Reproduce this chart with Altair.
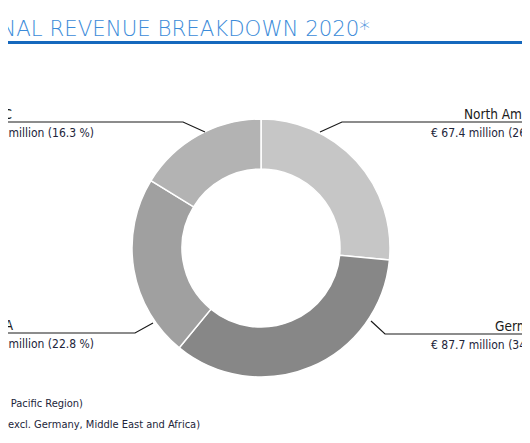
import altair as alt
import pandas as pd

# ---------------- data ----------------
regions = ["North America", "Germany", "EMEA", "APAC"]
revenue_meur = [67.4, 87.7, 58.1, 41.4]
share_pct = [26.5, 34.4, 22.8, 16.3]
slice_colors = ["#c6c6c6", "#878787", "#a0a0a0", "#b3b3b3"]
value_labels = [
    "€ 67.4 million  (26.5 %)",
    "€ 87.7 million (34.4 %)",
    "€ 58.1 million (22.8 %)",
    "€ 41.4 million (16.3 %)",
]
title_text = "REGIONAL REVENUE BREAKDOWN 2020*"
footnotes = [
    "APAC (Asia and Pacific Region)",
    "EMEA (Europe excl. Germany, Middle East and Africa)",
]

# ---------------- layout (reference pixel space) ----------------
W, H, M = 530, 443, 8
CX, CY = 261, 248
R_OUT, R_IN = 129, 79
FONT = "Liberation Sans Narrow, Arial Narrow, DejaVu Sans Condensed, sans-serif"

side = ["right", "right", "left", "left"]
line_y = [122, 334, 333, 122]
name_x = [464, 495, 13, 12]
value_x = [431, 431, 94, 94]
leader_paths = [
    [(530, 122), (342, 122), (320, 132)],
    [(530, 334), (385, 334), (371, 321)],
    [(0, 333), (135, 333), (153, 323)],
    [(0, 122), (183, 122), (205, 132)],
]

df = pd.DataFrame({
    "region": regions,
    "revenue": revenue_meur,
    "share": share_pct,
    "idx": list(range(len(regions))),
    "value_label": value_labels,
    "side": side,
    "name_x": name_x,
    "value_x": value_x,
    "name_y": [v - 3.5 for v in line_y],
    "value_y": [v + 14.5 for v in line_y],
})

lead_rows = []
for r, path in zip(regions, leader_paths):
    for k, (px, py) in enumerate(path):
        lead_rows.append({"region": r, "k": k, "px": px, "py": py})
lead_df = pd.DataFrame(lead_rows)

xs = alt.Scale(domain=[M, W - M], nice=False, zero=False)
ys = alt.Scale(domain=[M, H - M], reverse=True, nice=False, zero=False)

base = alt.Chart(df)

donut = base.mark_arc(radius=R_OUT, innerRadius=R_IN, stroke="white", strokeWidth=1.5).encode(
    theta=alt.Theta("revenue:Q", stack=True),
    order=alt.Order("idx:Q"),
    color=alt.Color("region:N", scale=alt.Scale(domain=regions, range=slice_colors), legend=None),
    x=alt.value(CX - M),
    y=alt.value(CY - M),
)

leaders = alt.Chart(lead_df).mark_line(color="#1a1a1a", strokeWidth=1.2).encode(
    x=alt.X("px:Q", scale=xs, axis=None),
    y=alt.Y("py:Q", scale=ys, axis=None),
    detail="region:N",
    order="k:Q",
)

def label_layer(sd, align):
    sub = base.transform_filter(alt.datum.side == sd)
    names = sub.mark_text(align=align, baseline="alphabetic", font=FONT, fontSize=13.5, color="#1b1b1b").encode(
        x=alt.X("name_x:Q", scale=xs, axis=None),
        y=alt.Y("name_y:Q", scale=ys, axis=None),
        text="region:N",
    )
    vals = sub.mark_text(align=align, baseline="alphabetic", font=FONT, fontSize=12, color="#22253a").encode(
        x=alt.X("value_x:Q", scale=xs, axis=None),
        y=alt.Y("value_y:Q", scale=ys, axis=None),
        text="value_label:N",
    )
    return names + vals

title_df = pd.DataFrame({"t": [title_text], "x": [370], "y": [36], "x0": [0], "x1": [530], "ry": [42.5]})
title = alt.Chart(title_df).mark_text(
    align="right", baseline="alphabetic", font="DejaVu Sans", fontWeight=200, fontSize=21.3, color="#3b8bd9"
).encode(
    x=alt.X("x:Q", scale=xs, axis=None),
    y=alt.Y("y:Q", scale=ys, axis=None),
    text="t:N",
)
title_rule = alt.Chart(title_df).mark_rule(color="#1668bd", strokeWidth=3).encode(
    x=alt.X("x0:Q", scale=xs, axis=None),
    x2="x1:Q",
    y=alt.Y("ry:Q", scale=ys, axis=None),
)

foot_df = pd.DataFrame({"t": footnotes, "x": [83, 200], "y": [407, 428]})
foot = alt.Chart(foot_df).mark_text(
    align="right", baseline="alphabetic", font=FONT, fontSize=11, color="#22253a"
).encode(
    x=alt.X("x:Q", scale=xs, axis=None),
    y=alt.Y("y:Q", scale=ys, axis=None),
    text="t:N",
)

chart = alt.layer(
    donut, leaders, label_layer("right", "left"), label_layer("left", "right"), title_rule, title, foot
).properties(
    width=W - 2 * M, height=H - 2 * M,
    autosize=alt.AutoSizeParams(type="none"),
    padding=0, background="white",
).configure_view(stroke=None)

chart.save("out.html", embed_options={"renderer": "svg", "actions": False})
